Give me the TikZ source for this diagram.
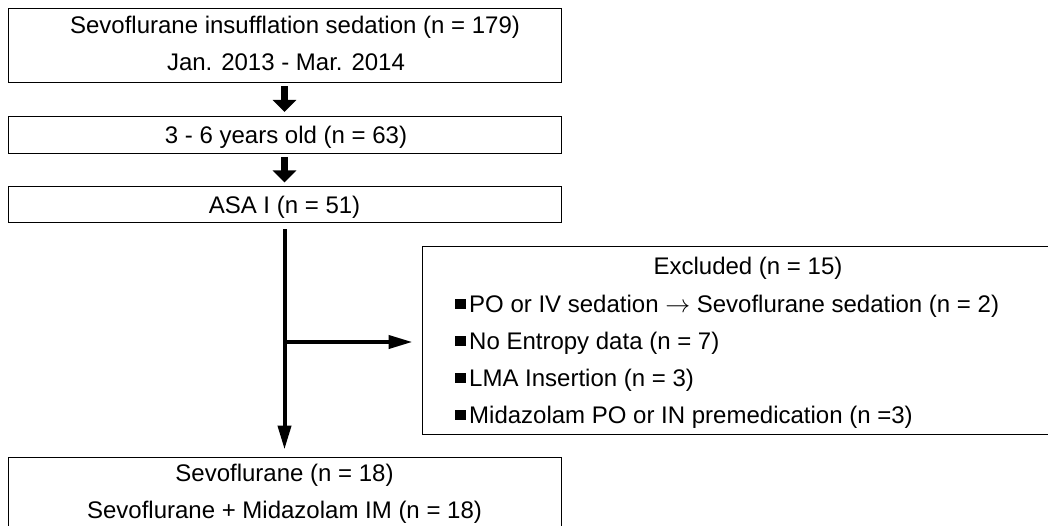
\documentclass[tikz,border=0pt]{standalone}
\usepackage{fontspec}
\setmainfont{Liberation Sans}
\usetikzlibrary{arrows.meta}
\begin{document}
\begin{tikzpicture}[x=1pt,y=-1pt,
  box/.style={draw=black,line width=1pt,rectangle,inner sep=0pt},
  txt/.style={inner sep=0pt,anchor=base,font=\fontsize{24}{28}\selectfont},
  item/.style={inner sep=0pt,anchor=base west,font=\fontsize{24}{28}\selectfont},
  blockarrow/.style={line width=7pt,-{Triangle[width=23pt,length=12pt]}},
  flow/.style={line width=4pt,-{Triangle[width=13pt,length=24pt]}}]
\newcommand\bul{\rule[3.4pt]{10.5pt}{10.5pt}\hspace*{3.5pt}}
\useasboundingbox (0,0) rectangle (1048,526);
\clip (0,0) rectangle (1048,526);
% boxes
\node[box,minimum width=553pt,minimum height=74pt] (b1) at (284.5,46) {};
\node[box,minimum width=553pt,minimum height=37pt] (b2) at (284.5,135) {};
\node[box,minimum width=553pt,minimum height=36pt] (b3) at (284.5,205) {};
\node[box,minimum width=553pt,minimum height=100pt] (b4) at (284.5,507) {};
\node[box,minimum width=652pt,minimum height=187pt] (ex) at (748,340.5) {};
% texts
\node[txt] (t1a) at (295,33.6) {Sevoflurane insufflation sedation (n = 179)};
\node[txt] (t1b) at (286,71) {Jan. 2013 - Mar. 2014};
\node[txt] (t2) at (286,143.6) {3 - 6 years old (n = 63)};
\node[txt] (t3) at (284.5,213.6) {ASA I (n = 51)};
\node[txt] (t4a) at (284.5,481.6) {Sevoflurane (n = 18)};
\node[txt] (t4b) at (284.5,518.6) {Sevoflurane + Midazolam IM (n = 18)};
\node[txt] (ext) at (748,274.6) {Excluded (n = 15)};
\node[item] (e1) at (455,312.6) {\bul PO or IV sedation $\rightarrow$ Sevoflurane sedation (n = 2)};
\node[item] (e2) at (455,349.6) {\bul No Entropy data (n = 7)};
\node[item] (e3) at (455,386.6) {\bul LMA Insertion (n = 3)};
\node[item] (e4) at (455,423.6) {\bul Midazolam PO or IN premedication (n =3)};
% arrows
\draw[blockarrow] ([yshift=-3pt]b1.south) -- ([yshift=4pt]b2.north);
\draw[blockarrow] ([yshift=-3pt]b2.south) -- ([yshift=4pt]b3.north);
\draw[flow] ([yshift=-6pt]b3.south) -- ([yshift=7pt]b4.north);
\coordinate (br) at (284.5,342);
\draw[flow,shorten >=9pt] (br) -- (br -| ex.west);
\end{tikzpicture}
\end{document}
